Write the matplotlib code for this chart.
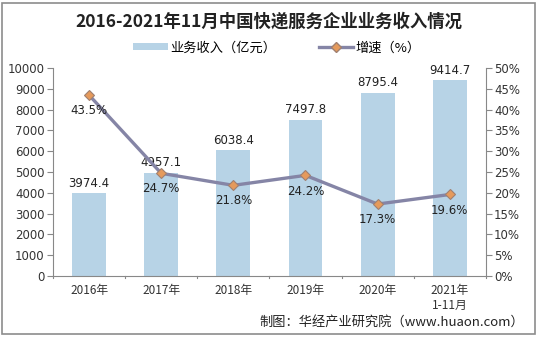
import matplotlib
matplotlib.use("Agg")
import matplotlib.pyplot as plt
from matplotlib.patches import Rectangle
from matplotlib.lines import Line2D
from matplotlib.patches import Patch

plt.rcParams['font.family'] = ['Noto Sans CJK SC', 'DejaVu Sans']

categories = ["2016年", "2017年", "2018年", "2019年", "2020年", "2021年\n1-11月"]
revenue = [3974.4, 4957.1, 6038.4, 7497.8, 8795.4, 9414.7]
growth = [43.5, 24.7, 21.8, 24.2, 17.3, 19.6]
left_ticks = list(range(0, 10001, 1000))
right_ticks = list(range(0, 51, 5))

fig = plt.figure(figsize=(5.38, 3.37), dpi=100)
fig.patches.append(Rectangle((0.004, 0.01), 0.99, 0.982, transform=fig.transFigure,
                             fill=False, edgecolor="#8c8c8c", lw=1.2))

ax = fig.add_axes([0.0985, 0.181, 0.8045, 0.617])
x = list(range(len(categories)))
bar_color = "#b7d3e6"
ax.bar(x, revenue, width=0.47, color=bar_color)
ax.set_ylim(0, 10000)
ax.set_xlim(-0.5, len(categories) - 0.5)
ax.set_yticks(left_ticks)
ax.set_yticklabels([str(v) for v in left_ticks], fontsize=8.5, color="#333333", family="DejaVu Sans")
ax.set_xticks(x)
ax.set_xticklabels(categories, fontsize=8.5, color="#333333")
ax.tick_params(axis='x', length=0, pad=6)
ax.tick_params(axis='y', direction='out', length=4, color="#888888", pad=2)
for s in ['top', 'right']:
    ax.spines[s].set_visible(False)
ax.spines['left'].set_color("#888888")
ax.spines['bottom'].set_color("#888888")
# category separator ticks on x axis
for b in [i - 0.5 for i in range(len(categories) + 1)]:
    ax.plot([b, b], [0, -120], color="#888888", lw=0.8, clip_on=False)

for xi, v in zip(x, revenue):
    ax.text(xi, v + 180, f"{v:.1f}", ha='center', va='bottom', fontsize=8.5,
            color="#222222", family="DejaVu Sans")

ax2 = ax.twinx()
ax2.set_ylim(0, 50)
ax2.set_yticks(right_ticks)
ax2.set_yticklabels([f"{v}%" for v in right_ticks], fontsize=8.5, color="#333333", family="DejaVu Sans")
ax2.tick_params(axis='y', direction='out', length=4, color="#888888", pad=2)
for s in ['top', 'left', 'bottom']:
    ax2.spines[s].set_visible(False)
ax2.spines['right'].set_color("#888888")
line_color = "#8585a6"
ax2.plot(x, growth, color=line_color, lw=2.4, marker='D', markersize=5.5,
         markerfacecolor="#e59a5c", markeredgecolor="#a08070", markeredgewidth=0.8)
for xi, g in zip(x, growth):
    ax2.text(xi, g - 2.2, f"{g}%", ha='center', va='top', fontsize=8.5,
             color="#222222", family="DejaVu Sans")

fig.text(0.5, 0.935, "2016-2021年11月中国快递服务企业业务收入情况", ha='center', va='center',
         fontsize=12.5, fontweight='bold', color="#222222")

handles = [Patch(facecolor=bar_color, edgecolor='none'),
           Line2D([0], [0], color=line_color, lw=2.4, marker='D', markersize=5,
                  markerfacecolor="#e59a5c", markeredgecolor="#a08070")]
fig.legend(handles, ["业务收入（亿元）", "增速（%）"], loc='center', bbox_to_anchor=(0.515, 0.858),
           ncol=2, frameon=False, fontsize=9.5, handlelength=2.6, handleheight=0.45,
           columnspacing=3.2, handletextpad=0.2)

fig.text(0.975, 0.045, "制图：华经产业研究院（www.huaon.com）", ha='right', va='center',
         fontsize=9.5, color="#222222")

fig.savefig("out.png", dpi=100)
